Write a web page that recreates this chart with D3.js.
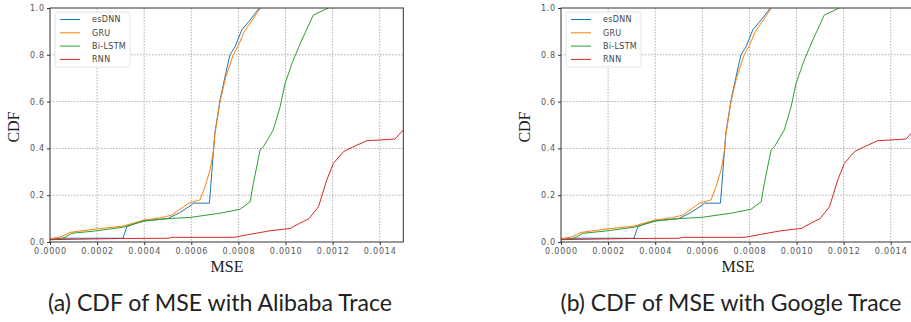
<!DOCTYPE html>
<html>
<head>
<meta charset="utf-8">
<script src="https://cdn.jsdelivr.net/npm/d3@7"></script>
<style>
  body { margin: 0; background: #fff; }
  svg { display: block; }
  .tick text { font-family: "DejaVu Sans", sans-serif; font-size: 8px; fill: #555; letter-spacing: 0.8px; }
  .grid line { stroke: #9a9a9a; stroke-width: 0.8; stroke-dasharray: 1.5,1.5; }
  .frame { fill: none; stroke: #333; stroke-width: 1; }
  .legend-box { fill: #fff; fill-opacity: 0.85; stroke: #ddd; stroke-width: 0.8; }
  .legend text { font-family: "DejaVu Sans", sans-serif; font-size: 8px; fill: #444; letter-spacing: 0.3px; }
  .axis-label { font-family: "Liberation Serif", "DejaVu Serif", serif; font-size: 16px; fill: #222; }
  .caption { font-family: "Lato", "Open Sans", sans-serif; fill: #222; }
</style>
</head>
<body>
<svg id="chart" width="911" height="322"></svg>
<script>
const WIDTH = 911;
const HEIGHT = 322;

const SERIES = ["esDNN", "GRU", "Bi-LSTM", "RNN"];
const COLORS = ["#1f77b4", "#ff7f0e", "#2ca02c", "#d62728"];
const X_TICKS = [0, 0.0002, 0.0004, 0.0006, 0.0008, 0.0010, 0.0012, 0.0014];
const Y_TICKS = [0, 0.2, 0.4, 0.6, 0.8, 1.0];
const CAPTIONS = ["(a) CDF of MSE with Alibaba Trace", "(b) CDF of MSE with Google Trace"];

// [MSE, CDF] pairs (both traces look the same)
const ESDNN = [
  [0, 0.012], [0.00005, 0.016], [0.00031, 0.016], [0.000326, 0.065], [0.00035, 0.075],
  [0.0004, 0.09], [0.0005, 0.1], [0.00055, 0.125], [0.0006, 0.158], [0.00061, 0.166],
  [0.000677, 0.166], [0.0007, 0.466], [0.000722, 0.607], [0.000743, 0.706],
  [0.000764, 0.8], [0.000786, 0.835], [0.000814, 0.906], [0.00085, 0.949], [0.000889, 1.0]
];
const GRU = [
  [0, 0.015], [0.00004, 0.02], [0.000064, 0.03], [0.000085, 0.041], [0.00019, 0.055],
  [0.00031, 0.068], [0.0004, 0.094], [0.000474, 0.104], [0.000517, 0.115],
  [0.000587, 0.165], [0.000637, 0.18], [0.000658, 0.236], [0.00068, 0.31],
  [0.000694, 0.39], [0.0007, 0.46], [0.000722, 0.6], [0.000745, 0.7], [0.000778, 0.8],
  [0.0008, 0.84], [0.000825, 0.9], [0.00086, 0.95], [0.000893, 1.0]
];
const BILSTM = [
  [0, 0.01], [0.00004, 0.012], [0.000064, 0.02], [0.000092, 0.037], [0.00019, 0.047],
  [0.00031, 0.063], [0.0004, 0.09], [0.0005, 0.1], [0.000595, 0.105], [0.000722, 0.123],
  [0.000807, 0.14], [0.00085, 0.172], [0.000863, 0.25], [0.000892, 0.393],
  [0.000906, 0.407], [0.000948, 0.479], [0.000977, 0.578], [0.000998, 0.678],
  [0.001033, 0.778], [0.001069, 0.863], [0.001118, 0.97], [0.001182, 1.0]
];
const RNN = [
  [0, 0.01], [0.0003, 0.015], [0.0005, 0.016], [0.00052, 0.02], [0.00078, 0.02],
  [0.00085, 0.033], [0.000934, 0.048], [0.00102, 0.058], [0.00106, 0.08], [0.0011, 0.1],
  [0.00114, 0.151], [0.001175, 0.265], [0.001203, 0.336], [0.001246, 0.386],
  [0.001288, 0.407], [0.001345, 0.433], [0.001401, 0.436], [0.001465, 0.44], [0.0015, 0.479]
];
const DATA = [ESDNN, GRU, BILSTM, RNN];

const PANEL_OFFSETS = [0, 511];

const svg = d3.select("#chart");
svg.append("defs").append("clipPath").attr("id", "plot-clip")
  .append("rect").attr("x", 0).attr("y", 0).attr("width", 353.3).attr("height", 234);

const x = d3.scaleLinear().domain([0, 0.0015]).range([0, 353.3]);
const y = d3.scaleLinear().domain([0, 1]).range([234, 0]);

PANEL_OFFSETS.forEach((dx, i) => {
  const g = svg.append("g").attr("transform", `translate(${50 + dx},8)`);

  // grid
  g.append("g").attr("class", "grid")
    .selectAll("line.v").data(X_TICKS.slice(1)).join("line")
    .attr("x1", (d) => x(d)).attr("x2", (d) => x(d)).attr("y1", 0).attr("y2", 234);
  g.append("g").attr("class", "grid")
    .selectAll("line.h").data(Y_TICKS.slice(1, -1)).join("line")
    .attr("x1", 0).attr("x2", 353.3).attr("y1", (d) => y(d)).attr("y2", (d) => y(d));

  // curves
  const line = d3.line().x((d) => x(d[0])).y((d) => y(d[1]));
  g.append("g").attr("clip-path", "url(#plot-clip)")
    .selectAll("path").data(DATA).join("path")
    .attr("d", line)
    .attr("fill", "none")
    .attr("stroke", (d, k) => COLORS[k])
    .attr("stroke-width", 1);

  g.append("rect").attr("class", "frame").attr("width", 353.3).attr("height", 234);

  const xAxis = g.append("g").attr("transform", "translate(0,234)")
    .call(d3.axisBottom(x).tickValues(X_TICKS).tickFormat(d3.format(".4f")).tickSize(3).tickPadding(3.5));
  xAxis.select(".domain").remove();
  xAxis.selectAll(".tick line").attr("stroke", "#333");

  const yAxis = g.append("g")
    .call(d3.axisLeft(y).tickValues(Y_TICKS).tickFormat(d3.format(".1f")).tickSize(3).tickPadding(2));
  yAxis.select(".domain").remove();
  yAxis.selectAll(".tick line").attr("stroke", "#333");
  yAxis.selectAll(".tick text").attr("dy", "0.3em");

  // legend
  const legend = g.append("g").attr("class", "legend").attr("transform", "translate(5,4)");
  legend.append("rect").attr("class", "legend-box")
    .attr("width", 75).attr("height", 55).attr("rx", 2);
  const items = legend.selectAll("g.item").data(SERIES).join("g")
    .attr("class", "item")
    .attr("transform", (d, k) => `translate(0,${7.5 + k * 13.3})`);
  items.append("line").attr("x1", 5).attr("x2", 25)
    .attr("stroke", (d, k) => COLORS[k]).attr("stroke-width", 1);
  items.append("text").attr("x", 37).attr("dy", "0.35em").text((d) => d);

  g.append("text").attr("class", "axis-label")
    .attr("x", 177).attr("y", 263.5).attr("text-anchor", "middle").text("MSE");
  g.append("text").attr("class", "axis-label")
    .attr("transform", `translate(-31,119) rotate(-90)`)
    .attr("text-anchor", "middle").text("CDF");

  const cap = svg.append("text").attr("class", "caption")
    .attr("x", 220 + dx).attr("y", 310.5).attr("text-anchor", "middle")
    .style("font-size", "18px").text(CAPTIONS[i]);
  const target = i === 0 ? 344 : 341;
  const w = cap.node().getComputedTextLength();
  cap.style("font-size", `${(18 * target / w).toFixed(2)}px`);
});
</script>
</body>
</html>
